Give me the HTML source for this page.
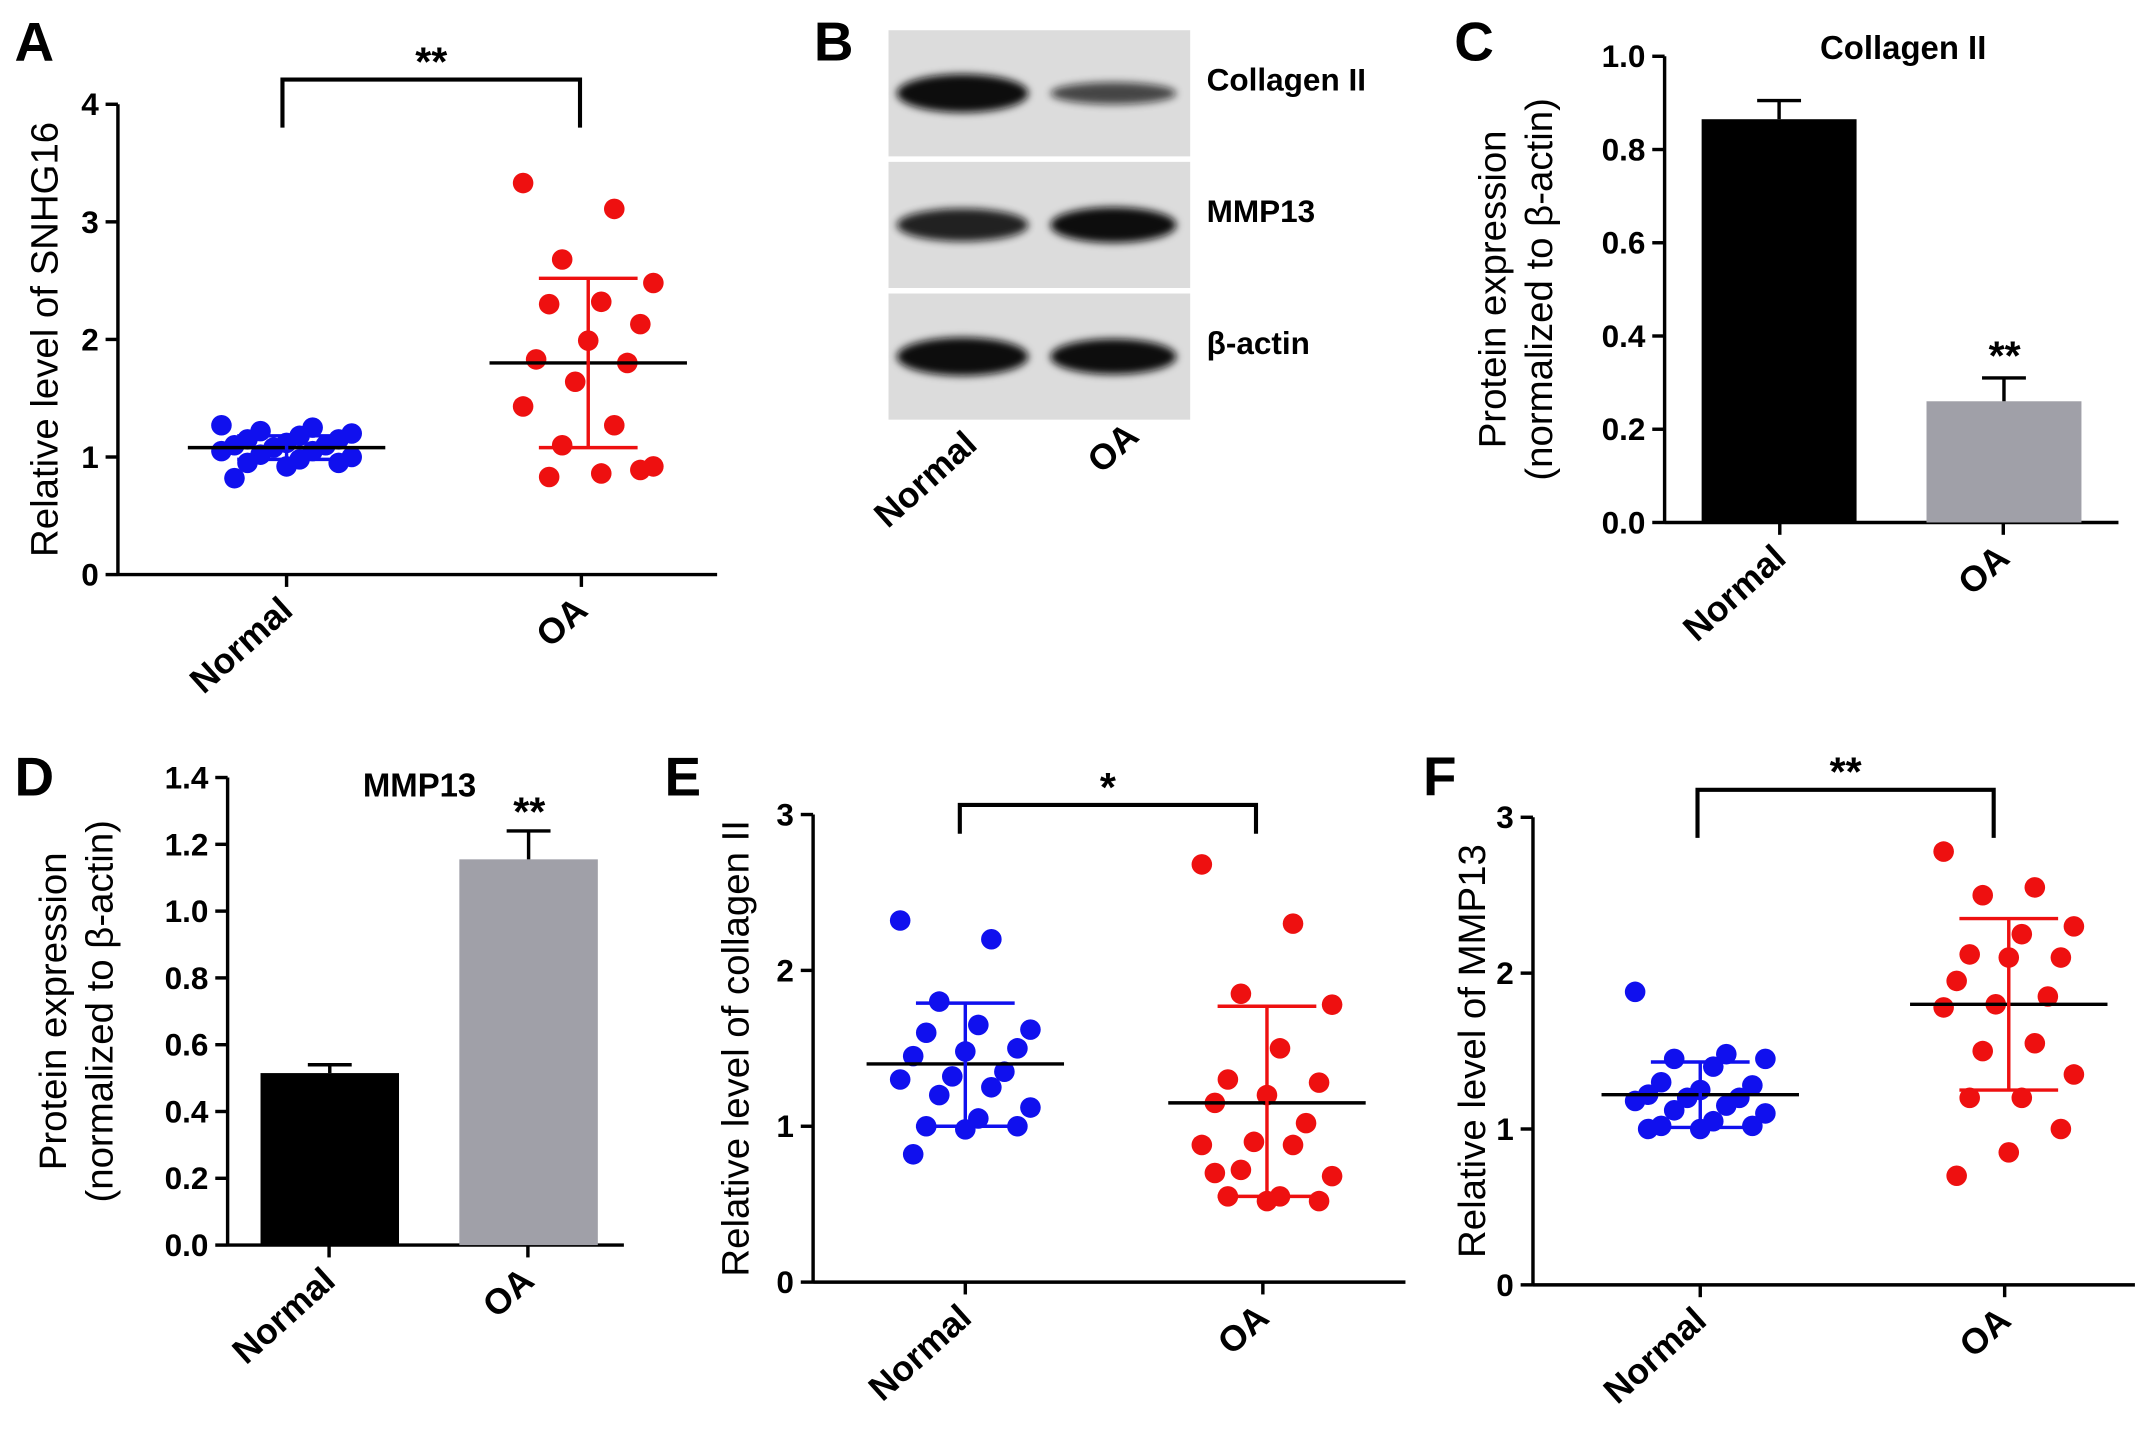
<!DOCTYPE html>
<html><head><meta charset="utf-8">
<style>
html,body{margin:0;padding:0;background:#fff;}
svg{display:block;font-family:"Liberation Sans",Arial,sans-serif;}
</style></head>
<body>
<svg id="fig" width="2150" height="1433" viewBox="0 0 1568 1045" xmlns="http://www.w3.org/2000/svg">
<defs>
<filter id="blur" x="-20%" y="-50%" width="140%" height="200%"><feGaussianBlur stdDeviation="3"/></filter>
</defs>
</svg>
<script>
// ---------- data ----------
const categories = ["Normal","OA"];
const aNormal = [1.27,1.25,1.22,1.2,1.18,1.15,1.15,1.12,1.1,1.1,1.08,1.05,1.05,1.02,1.0,0.98,0.95,0.95,0.92,0.82];
const aOA = [3.33,3.11,2.68,2.48,2.32,2.3,2.13,1.99,1.83,1.8,1.64,1.43,1.27,1.1,0.92,0.86,0.83,0.89];
const aStats = [[1.08,1.18,0.98],[1.8,2.52,1.08]];
const aTicks = [0,1,2,3,4];
const cBars = [0.865,0.26];
const cErr = [0.04,0.05];
const cTicks = [0,0.2,0.4,0.6,0.8,1.0];
const dBars = [0.515,1.155];
const dErr = [0.025,0.085];
const dTicks = [0,0.2,0.4,0.6,0.8,1.0,1.2,1.4];
const eNormal = [2.32,2.2,1.8,1.62,1.65,1.6,1.5,1.48,1.45,1.35,1.32,1.3,1.25,1.2,1.12,1.05,1.0,1.0,0.98,0.82];
const eOA = [2.68,2.3,1.85,1.78,1.5,1.3,1.28,1.2,1.15,1.02,0.9,0.88,0.88,0.72,0.68,0.55,0.55,0.52,0.52,0.7];
const eStats = [[1.4,1.79,1.0],[1.15,1.77,0.55]];
const fNormal = [1.88,1.48,1.45,1.45,1.4,1.3,1.28,1.25,1.22,1.2,1.2,1.18,1.15,1.12,1.1,1.05,1.02,1.02,1.0,1.0];
const fOA = [2.78,2.55,2.5,2.3,2.25,2.12,2.1,2.1,1.95,1.85,1.8,1.78,1.55,1.5,1.35,1.2,1.2,1.0,0.85,0.7];
const fStats = [[1.22,1.43,1.01],[1.8,2.35,1.25]];
const scatterTicks3 = [0,1,2,3];

const svg = document.getElementById('fig');
const NS = "http://www.w3.org/2000/svg";
function el(tag, attrs, parent, text){
  const e = document.createElementNS(NS, tag);
  for (const k in attrs) e.setAttribute(k, attrs[k]);
  if (text !== undefined) e.textContent = text;
  (parent||svg).appendChild(e);
  return e;
}
function group(name){
  const g = el('g', {});
  
  
  return g;
}
function letter(txt, x, y){
  const t = el('text', {x:x, y:y, 'font-size':40, 'font-weight':'bold', 'text-anchor':'middle'}, svg, txt);
  
  
}

function axes(g, o){
  const ys = v => o.y0 - (v / o.max) * (o.y0 - o.yTop);
  el('line',{x1:o.x0,y1:o.y0+1,x2:o.x0,y2:o.yTop,stroke:'#000','stroke-width':2.5},g);
  el('line',{x1:o.x0,y1:o.y0,x2:o.x1,y2:o.y0,stroke:'#000','stroke-width':2.5},g);
  o.ticks.forEach(t=>{
    const y = ys(t);
    el('line',{x1:o.x0-9,y1:y,x2:o.x0,y2:y,stroke:'#000','stroke-width':2.5},g);
    const tx = el('text',{x:o.x0-14,y:y+8,'font-size':23,'font-weight':'bold','text-anchor':'end'},g,t.toFixed(o.dec));
    
    
  });
  o.cx.forEach((cx,i)=>{
    el('line',{x1:cx,y1:o.y0,x2:cx,y2:o.y0+9,stroke:'#000','stroke-width':2.5},g);
    const lx = cx + 6, ly = o.y0 + 28;
    const tx = el('text',{x:lx,y:ly,'font-size':26,'font-weight':'bold','text-anchor':'end',transform:`rotate(-42 ${lx} ${ly})`},g,categories[i]);
    
    
  });
  o.ytitle.forEach((line,i)=>{
    const x = o.ytx + i*34;
    const y = (o.y0 + o.yTop)/2;
    const tx = el('text',{x:x,y:y,'font-size':28,'text-anchor':'middle',transform:`rotate(-90 ${x} ${y})`},g,line);
    
    
  });
  return ys;
}

function scatter(g, ys, cx, vals, color, stats, name){
  vals.forEach((v,i)=>{
    const off = (((i*7)%11) - 5) * 9.5;
    const c = el('circle',{cx:cx+off, cy:ys(v), r:7.5, fill:color},g);
    
    
  });
  const [m,hi,lo] = stats;
  const ml = el('line',{x1:cx-72,y1:ys(m),x2:cx+72,y2:ys(m),stroke:'#000','stroke-width':2.5},g);
  
  
  el('line',{x1:cx,y1:ys(hi),x2:cx,y2:ys(lo),stroke:color,'stroke-width':2.5},g);
  el('line',{x1:cx-36,y1:ys(hi),x2:cx+36,y2:ys(hi),stroke:color,'stroke-width':2.5},g);
  el('line',{x1:cx-36,y1:ys(lo),x2:cx+36,y2:ys(lo),stroke:color,'stroke-width':2.5},g);
}

function bracket(g, x1, x2, y, yb, star){
  el('path',{d:`M${x1} ${yb} L${x1} ${y} L${x2} ${y} L${x2} ${yb}`,fill:'none',stroke:'#000','stroke-width':3},g);
  const t = el('text',{x:(x1+x2)/2,y:y-3,'font-size':30,'font-weight':'bold','text-anchor':'middle'},g,star);
  
  
}

function bars(g, ys, cfg){
  cfg.x.forEach((x,i)=>{
    const v = cfg.vals[i], e = cfg.err[i], w = cfg.w;
    const b = el('rect',{x:x, y:ys(v), width:w, height:ys(0)-ys(v), fill:cfg.colors[i]},g);
    
    
    const cx = x + w/2;
    el('line',{x1:cx,y1:ys(v),x2:cx,y2:ys(v+e),stroke:'#000','stroke-width':2.5},g);
    el('line',{x1:cx-16,y1:ys(v+e),x2:cx+16,y2:ys(v+e),stroke:'#000','stroke-width':2.5},g);
  });
}

// ---------- Panel A ----------
letter('A', 25, 44);
{
  const g = group('panel-a-scatter');
  const ys = axes(g,{x0:86,x1:523,y0:419,yTop:76,max:4,ticks:aTicks,dec:0,cx:[209,424],ytitle:['Relative level of SNHG16'],ytx:42});
  scatter(g, ys, 209, aNormal, '#1010ee', aStats[0], 'normal');
  scatter(g, ys, 429, aOA, '#ee1010', aStats[1], 'oa');
  bracket(g, 206, 423, 58, 93, '**');
}

// ---------- Panel B (western blot) ----------
letter('B', 608, 44);
{
  const g = group('panel-b-western-blot');
  const strips = [[22,'Collagen II',[1.0,0.45]],[118,'MMP13',[0.75,1.0]],[214,'β-actin',[1.0,1.0]]];
  strips.forEach(([y,lab,intens])=>{
    el('rect',{x:648,y:y,width:220,height:92,fill:'#dcdcdc'},g);
    const cy = y+46;
    el('ellipse',{cx:702,cy:cy,rx:48,ry:6+8*intens[0],fill:'#111',opacity:0.6+0.4*intens[0],filter:'url(#blur)'},g);
    el('ellipse',{cx:812,cy:cy,rx:46,ry:4+9*intens[1],fill:'#111',opacity:0.5+0.5*intens[1],filter:'url(#blur)'},g);
    const t = el('text',{x:880,y:y+44,'font-size':23,'font-weight':'bold'},g,lab);
    
    
  });
  [[714,326,'Normal'],[832,320,'OA']].forEach(([x,y,s])=>{
    const t = el('text',{x:x,y:y,'font-size':26,'font-weight':'bold','text-anchor':'end',transform:`rotate(-42 ${x} ${y})`},g,s);
    
    
  });
}

// ---------- Panel C ----------
letter('C', 1075, 44);
{
  const g = group('panel-c-collagen-bar');
  const ys = axes(g,{x0:1214,x1:1545,y0:381,yTop:41,max:1.0,ticks:cTicks,dec:1,cx:[1298,1461],ytitle:['Protein expression','(normalized to β-actin)'],ytx:1098});
  bars(g, ys, {x:[1241,1405],w:113,vals:cBars,err:cErr,colors:['#000','#a0a0a8']});
  const t = el('text',{x:1388,y:43,'font-size':24,'font-weight':'bold','text-anchor':'middle'},g,'Collagen II');
  
  
  el('text',{x:1462,y:ys(cBars[1]+cErr[1])-6,'font-size':30,'font-weight':'bold','text-anchor':'middle'},g,'**');
}

// ---------- Panel D ----------
letter('D', 25, 580);
{
  const g = group('panel-d-mmp13-bar');
  const ys = axes(g,{x0:166,x1:455,y0:908,yTop:567,max:1.4,ticks:dTicks,dec:1,cx:[240,385],ytitle:['Protein expression','(normalized to β-actin)'],ytx:48});
  bars(g, ys, {x:[190,335],w:101,vals:dBars,err:dErr,colors:['#000','#a0a0a8']});
  const t = el('text',{x:306,y:581,'font-size':24,'font-weight':'bold','text-anchor':'middle'},g,'MMP13');
  
  
  el('text',{x:386,y:ys(dBars[1]+dErr[1])-4,'font-size':30,'font-weight':'bold','text-anchor':'middle'},g,'**');
}

// ---------- Panel E ----------
letter('E', 498, 580);
{
  const g = group('panel-e-collagen-scatter');
  const ys = axes(g,{x0:593,x1:1025,y0:935,yTop:594,max:3,ticks:scatterTicks3,dec:0,cx:[704,921],ytitle:['Relative level of collagen  II'],ytx:546});
  scatter(g, ys, 704, eNormal, '#1010ee', eStats[0], 'normal');
  scatter(g, ys, 924, eOA, '#ee1010', eStats[1], 'oa');
  bracket(g, 700, 916, 587, 608, '*');
}

// ---------- Panel F ----------
letter('F', 1050, 580);
{
  const g = group('panel-f-mmp13-scatter');
  const ys = axes(g,{x0:1118,x1:1557,y0:937,yTop:596,max:3,ticks:scatterTicks3,dec:0,cx:[1240,1462],ytitle:['Relative level of MMP13'],ytx:1083});
  scatter(g, ys, 1240, fNormal, '#1010ee', fStats[0], 'normal');
  scatter(g, ys, 1465, fOA, '#ee1010', fStats[1], 'oa');
  bracket(g, 1238, 1454, 576, 611, '**');
}
</script>
</body></html>
